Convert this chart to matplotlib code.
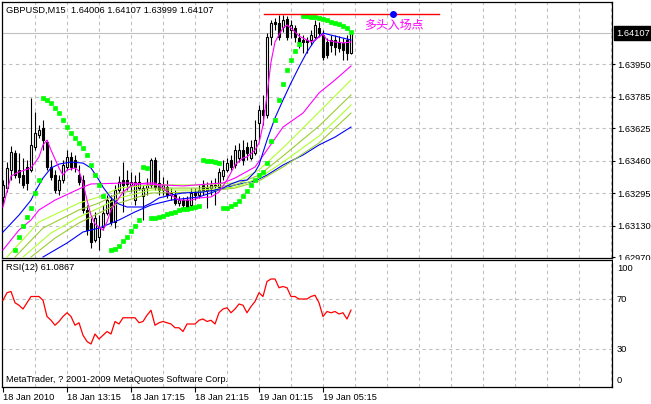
import numpy as np
import matplotlib
matplotlib.use("Agg")
import matplotlib.pyplot as plt
from matplotlib.patches import Rectangle

plt.rcParams['font.family'] = ['Liberation Sans', 'DejaVu Sans']
plt.rcParams['font.size'] = 6.7

###--------- GBPUSD M15 bars, 18 Jan 2010 09:15 -> 19 Jan 07:00 ---------###
opens = [1.63275, 1.63320, 1.63412, 1.63498, 1.63412, 1.63386, 1.63427, 1.63412, 1.63529, 1.63590,
         1.63625, 1.63554, 1.63427, 1.63386, 1.63310, 1.63361, 1.63427, 1.63478, 1.63463, 1.63386,
         1.63361, 1.63209, 1.63143, 1.63056, 1.63072, 1.63122, 1.63193, 1.63259, 1.63148, 1.63310,
         1.63361, 1.63361, 1.63336, 1.63259, 1.63320, 1.63280, 1.63320, 1.63336, 1.63463, 1.63346,
         1.63310, 1.63325, 1.63285, 1.63285, 1.63244, 1.63259, 1.63259, 1.63234, 1.63295, 1.63285,
         1.63336, 1.63310, 1.63320, 1.63331, 1.63325, 1.63381, 1.63412, 1.63463, 1.63437, 1.63473,
         1.63513, 1.63529, 1.63473, 1.63498, 1.63650, 1.63716, 1.63691, 1.64087, 1.64163, 1.64158,
         1.64138, 1.64179, 1.64123, 1.64133, 1.64082, 1.64072, 1.64072, 1.64072, 1.64087, 1.64133,
         1.64097, 1.64062, 1.64072, 1.64072, 1.64062, 1.64057, 1.64072, 1.64006]
highs = [1.63361, 1.63452, 1.63534, 1.63513, 1.63498, 1.63473, 1.63463, 1.63777, 1.63706, 1.63640,
         1.63666, 1.63564, 1.63463, 1.63412, 1.63386, 1.63463, 1.63513, 1.63503, 1.63488, 1.63437,
         1.63386, 1.63234, 1.63168, 1.63199, 1.63183, 1.63234, 1.63285, 1.63285, 1.63336, 1.63381,
         1.63452, 1.63412, 1.63402, 1.63386, 1.63402, 1.63336, 1.63371, 1.63473, 1.63478, 1.63412,
         1.63376, 1.63361, 1.63320, 1.63310, 1.63280, 1.63275, 1.63280, 1.63320, 1.63320, 1.63336,
         1.63361, 1.63351, 1.63361, 1.63371, 1.63422, 1.63463, 1.63473, 1.63488, 1.63539, 1.63549,
         1.63564, 1.63554, 1.63564, 1.63666, 1.63742, 1.63793, 1.64107, 1.64173, 1.64184, 1.64199,
         1.64199, 1.64194, 1.64173, 1.64148, 1.64107, 1.64097, 1.64087, 1.64123, 1.64173, 1.64163,
         1.64123, 1.64082, 1.64097, 1.64097, 1.64092, 1.64082, 1.64097, 1.64107]
lows = [1.63234, 1.63300, 1.63361, 1.63371, 1.63346, 1.63320, 1.63310, 1.63402, 1.63513, 1.63574,
        1.63513, 1.63412, 1.63361, 1.63295, 1.63285, 1.63346, 1.63412, 1.63412, 1.63402, 1.63336,
        1.63193, 1.63082, 1.63016, 1.63046, 1.63006, 1.63107, 1.63183, 1.63132, 1.63117, 1.63295,
        1.63199, 1.63310, 1.63300, 1.63234, 1.63310, 1.63158, 1.63285, 1.63320, 1.63310, 1.63285,
        1.63285, 1.63270, 1.63259, 1.63234, 1.63229, 1.63219, 1.63209, 1.63224, 1.63259, 1.63270,
        1.63285, 1.63219, 1.63285, 1.63234, 1.63310, 1.63361, 1.63402, 1.63412, 1.63422, 1.63452,
        1.63437, 1.63463, 1.63463, 1.63488, 1.63564, 1.63640, 1.63676, 1.64047, 1.64123, 1.64072,
        1.64113, 1.64072, 1.64082, 1.64062, 1.64031, 1.64006, 1.64006, 1.64047, 1.64072, 1.64087,
        1.63970, 1.63981, 1.64011, 1.63996, 1.64011, 1.63970, 1.63970, 1.63999]
closes = [1.63336, 1.63422, 1.63503, 1.63386, 1.63376, 1.63336, 1.63346, 1.63539, 1.63600, 1.63615,
          1.63564, 1.63427, 1.63376, 1.63310, 1.63361, 1.63437, 1.63478, 1.63427, 1.63427, 1.63351,
          1.63209, 1.63107, 1.63046, 1.63168, 1.63122, 1.63193, 1.63259, 1.63148, 1.63310, 1.63351,
          1.63336, 1.63341, 1.63351, 1.63351, 1.63351, 1.63320, 1.63336, 1.63463, 1.63325, 1.63310,
          1.63336, 1.63285, 1.63295, 1.63244, 1.63259, 1.63234, 1.63224, 1.63295, 1.63285, 1.63310,
          1.63310, 1.63320, 1.63336, 1.63336, 1.63402, 1.63412, 1.63447, 1.63427, 1.63513, 1.63513,
          1.63463, 1.63498, 1.63529, 1.63564, 1.63716, 1.63691, 1.64087, 1.64158, 1.64153, 1.64087,
          1.64173, 1.64087, 1.64148, 1.64087, 1.64057, 1.64062, 1.64062, 1.64097, 1.64148, 1.64107,
          1.63986, 1.63996, 1.64047, 1.64036, 1.64031, 1.64021, 1.64006, 1.64107]

# RSI(12), one value per bar
rsi = [69, 75, 76, 67, 65, 62, 67, 72, 72, 72, 69, 56, 53, 49, 52, 56, 59, 56, 49, 51,
       41, 36, 34, 42, 38, 41, 44, 42, 52, 50, 55, 55, 55, 55, 51, 52, 57, 61, 49, 51,
       52, 51, 50, 47, 47, 44, 50, 50, 50, 53, 54, 52, 53, 50, 59, 62, 63, 59, 62, 66,
       65, 59, 64, 68, 75, 72, 84, 86, 86, 79, 80, 79, 72, 72, 70, 70, 70, 72, 73, 67,
       56, 60, 59, 60, 58, 59, 54, 61.0867]

# Parabolic SAR dots (bar index, price)
sar_bars = [3, 4, 5, 6, 7, 8, 9, 10, 11, 12, 13, 14, 15, 16, 17, 18, 19, 20, 21, 22,
            23, 24, 25, 27, 28, 29, 30, 31, 32, 33, 34, 35, 36, 37, 38, 39, 40, 41, 42, 43,
            44, 45, 46, 47, 48, 49, 50, 51, 52, 53, 54, 55, 56, 57, 58, 59, 60, 61, 62, 63,
            64, 65, 66, 67, 68, 69, 70, 71, 72, 73, 74, 75, 76, 77, 78, 79, 80, 81, 82, 83,
            84, 85, 86, 87]
sar_vals = [1.63006, 1.63072, 1.63127, 1.63173, 1.63219, 1.63295, 1.63361, 1.63777, 1.63767, 1.63752,
            1.63727, 1.63701, 1.63666, 1.63630, 1.63600, 1.63574, 1.63549, 1.63524, 1.63488, 1.63437,
            1.63386, 1.63336, 1.63280, 1.63006, 1.63011, 1.63026, 1.63051, 1.63072, 1.63102, 1.63127,
            1.63158, 1.63427, 1.63422, 1.63168, 1.63168, 1.63173, 1.63178, 1.63188, 1.63193, 1.63199,
            1.63209, 1.63214, 1.63214, 1.63219, 1.63224, 1.63229, 1.63463, 1.63458, 1.63458, 1.63452,
            1.63447, 1.63219, 1.63219, 1.63229, 1.63239, 1.63254, 1.63280, 1.63305, 1.63336, 1.63361,
            1.63386, 1.63402, 1.63447, 1.63559, 1.63666, 1.63767, 1.63848, 1.63920, 1.63970, 1.64016,
            1.64052, 1.64194, 1.64194, 1.64189, 1.64189, 1.64184, 1.64179, 1.64173, 1.64163, 1.64158,
            1.64153, 1.64143, 1.64133, 1.64113]

# fast moving average (magenta)
ma_fast_bars = [0, 2, 4, 7, 9, 10, 11, 12, 14, 15, 16, 18, 19, 20, 21, 22, 23, 25, 26, 27,
                29, 30, 32, 34, 36, 38, 40, 42, 44, 47, 49, 52, 54, 56, 58, 60, 61, 63, 64, 65,
                66, 67, 68, 70, 71, 72, 73, 74, 76, 77, 78, 79, 80, 81, 83, 85, 87]
ma_fast = [1.63224, 1.63381, 1.63402, 1.63422, 1.63478, 1.63539, 1.63564, 1.63513, 1.63422, 1.63386,
           1.63412, 1.63422, 1.63407, 1.63346, 1.63259, 1.63183, 1.63138, 1.63107, 1.63148, 1.63209,
           1.63270, 1.63300, 1.63331, 1.63341, 1.63346, 1.63346, 1.63320, 1.63285, 1.63259, 1.63259,
           1.63270, 1.63275, 1.63300, 1.63361, 1.63437, 1.63473, 1.63478, 1.63513, 1.63549, 1.63640,
           1.63793, 1.63960, 1.64062, 1.64133, 1.64148, 1.64133, 1.64113, 1.64092, 1.64072, 1.64062,
           1.64072, 1.64087, 1.64102, 1.64072, 1.64062, 1.64057, 1.64062]

# medium moving average (blue)
ma_mid_bars = [0, 4, 7, 8, 10, 12, 14, 17, 20, 22, 24, 25, 27, 29, 31, 35, 37, 39, 42, 45,
               50, 53, 55, 57, 59, 61, 63, 64, 66, 68, 70, 72, 74, 76, 78, 80, 82, 85, 87]
ma_mid = [1.63097, 1.63183, 1.63259, 1.63300, 1.63371, 1.63422, 1.63442, 1.63452, 1.63447, 1.63422,
          1.63361, 1.63325, 1.63270, 1.63239, 1.63224, 1.63224, 1.63244, 1.63270, 1.63285, 1.63295,
          1.63300, 1.63310, 1.63320, 1.63341, 1.63356, 1.63361, 1.63402, 1.63437, 1.63564, 1.63676,
          1.63767, 1.63854, 1.63935, 1.64011, 1.64072, 1.64107, 1.64097, 1.64082, 1.64072]

# slow ribbon: magenta, four green-yellow lines, blue
rib_magenta_bars = [0, 4, 7, 9, 13, 20, 22, 31, 45, 55, 58, 63, 66, 70, 75, 79, 83, 87]
rib_magenta = [1.63006, 1.63107, 1.63158, 1.63209, 1.63259, 1.63325, 1.63341, 1.63346, 1.63331, 1.63346,
               1.63371, 1.63427, 1.63513, 1.63630, 1.63701, 1.63803, 1.63869, 1.63940]
rib_g1_bars = [1, 9, 19, 24, 29, 37, 49, 58, 64, 70, 79, 87]
rib_g1 = [1.62970, 1.63148, 1.63244, 1.63275, 1.63320, 1.63336, 1.63336, 1.63346, 1.63412, 1.63524, 1.63706, 1.63869]
rib_g2_bars = [3, 10, 19, 24, 29, 37, 49, 58, 64, 70, 79, 87]
rib_g2 = [1.62970, 1.63117, 1.63209, 1.63244, 1.63295, 1.63320, 1.63320, 1.63336, 1.63386, 1.63483, 1.63635, 1.63793]
rib_g3_bars = [5, 12, 19, 24, 29, 37, 49, 58, 64, 70, 79, 87]
rib_g3 = [1.62970, 1.63092, 1.63173, 1.63219, 1.63270, 1.63310, 1.63310, 1.63325, 1.63371, 1.63452, 1.63584, 1.63742]
rib_g4_bars = [7, 13, 19, 24, 29, 37, 49, 58, 64, 70, 79, 87]
rib_g4 = [1.62970, 1.63066, 1.63143, 1.63193, 1.63244, 1.63295, 1.63300, 1.63320, 1.63356, 1.63427, 1.63549, 1.63701]
rib_blue_bars = [10, 16, 20, 24, 29, 33, 37, 42, 49, 54, 58, 63, 66, 70, 75, 79, 83, 87]
rib_blue = [1.62970, 1.63041, 1.63097, 1.63117, 1.63158, 1.63199, 1.63234, 1.63259, 1.63275, 1.63310,
            1.63336, 1.63356, 1.63386, 1.63437, 1.63488, 1.63539, 1.63579, 1.63630]

# long entry marker
entry_price = 1.64204
entry_from, entry_to, entry_dot = 65.25, 109, 97.5
entry_text = '多头入场点'
entry_text_price = 1.64148

bid = 1.64107
header = 'GBPUSD,M15  1.64006 1.64107 1.63999 1.64107'
price_ticks = [1.63950, 1.63785, 1.63625, 1.63460, 1.63295, 1.63130, 1.62970]
time_tick_bars = [0, 16, 32, 48, 64, 80]
time_tick_labels = ['18 Jan 2010', '18 Jan 13:15', '18 Jan 17:15', '18 Jan 21:15',
                    '19 Jan 01:15', '19 Jan 05:15']

###--------- figure ---------###
W, H = 651, 404
fig = plt.figure(figsize=(W / 100, H / 100), dpi=100)
fig.patch.set_facecolor('white')


def px_axes(l, t, r, b):
    return fig.add_axes([l / W, 1 - b / H, (r - l) / W, (b - t) / H])


ax = px_axes(2, 2, 612, 258)
ax2 = px_axes(2, 260, 612, 387)

grid_kw = dict(color='#c0c0c0', lw=0.8, ls=(0, (3, 3)), zorder=0)
vgrid = np.arange(8, 153, 8)

for a in (ax, ax2):
    a.set_xlim(-0.25, 152.25)
    for v in vgrid:
        a.axvline(v, **grid_kw)
    for s in a.spines.values():
        s.set_color('black')
        s.set_linewidth(0.9)

#Main price panel:
ax.set_ylim(1.62965, 1.64265)
for p in price_ticks[:-1]:
    ax.axhline(p, **grid_kw)
ax.axhline(bid, color='#c0c0c0', lw=0.8, zorder=0.5)

x = np.arange(len(closes))
o, h, l, c = map(np.array, (opens, highs, lows, closes))
up = c >= o
ax.vlines(x, l, h, color='black', lw=0.8, zorder=2)
ax.bar(x, np.abs(c - o), bottom=np.minimum(o, c), width=0.72,
       color=np.where(up, 'white', 'black'), edgecolor='black', lw=0.8, zorder=2.5)

ax.plot(rib_blue_bars, rib_blue, color='#0000ff', lw=0.8, zorder=3)
ax.plot(rib_g4_bars, rib_g4, color='#9acd32', lw=0.8, zorder=3)
ax.plot(rib_g3_bars, rib_g3, color='#adff2f', lw=0.8, zorder=3)
ax.plot(rib_g2_bars, rib_g2, color='#9acd32', lw=0.8, zorder=3)
ax.plot(rib_g1_bars, rib_g1, color='#adff2f', lw=0.8, zorder=3)
ax.plot(rib_magenta_bars, rib_magenta, color='#ff00ff', lw=0.8, zorder=3)
ax.plot(ma_mid_bars, ma_mid, color='#0000ff', lw=0.8, zorder=3.2)
ax.plot(ma_fast_bars, ma_fast, color='#ff00ff', lw=0.8, zorder=3.3)
ax.plot(sar_bars, sar_vals, 's', color='#00ff00', ms=2.4, mec='#00ff00', mew=0.5, zorder=4)

ax.plot([entry_from, entry_to], [entry_price, entry_price], color='red', lw=1, zorder=4)
ax.plot(entry_dot, entry_price, 'o', color='blue', ms=4, zorder=5)
ax.text(entry_to - 4, entry_text_price, entry_text, color='#ff00ff', fontsize=8.6,
        ha='right', va='center', family=['Noto Sans CJK SC', 'DejaVu Sans'], zorder=5)

ax.text(4 / 610, (258 - 10) / 256, header, transform=ax.transAxes, va='center', ha='left')

ax.set_xticks([])
ax.yaxis.tick_right()
ax.set_yticks(price_ticks)
ax.set_yticklabels([f'{p:.5f}' for p in price_ticks])
ax.tick_params(axis='y', length=2.5, width=0.8, pad=1.5)
ax.annotate(f'{bid:.5f}', xy=(1, bid), xycoords=('axes fraction', 'data'),
            xytext=(3, 0), textcoords='offset points', va='center', ha='left', color='white',
            bbox=dict(boxstyle='square,pad=0.25', fc='black', ec='black'), annotation_clip=False)

#RSI panel:
ax2.set_ylim(-0.4, 101.2)
for r in (70, 30):
    ax2.axhline(r, **grid_kw)
ax2.plot(x, rsi, color='red', lw=0.9, zorder=3)
ax2.yaxis.tick_right()
ax2.set_yticks([70, 30])
ax2.set_yticklabels(['70', '30'])
ax2.tick_params(axis='y', length=0, pad=3.5)
ax2.text(1.008, 98, '100', transform=ax2.get_yaxis_transform(), va='top', ha='left')
ax2.text(1.008, 1, '0', transform=ax2.get_yaxis_transform(), va='bottom', ha='left')
ax2.text(4 / 610, (387 - 268) / 127, 'RSI(12) 61.0867', transform=ax2.transAxes, va='center')
ax2.text(4 / 610, (387 - 379) / 127, 'MetaTrader, ? 2001-2009 MetaQuotes Software Corp.',
         transform=ax2.transAxes, va='center')
ax2.set_xticks(time_tick_bars)
ax2.set_xticklabels(time_tick_labels, ha='left')
ax2.tick_params(axis='x', length=3.5, width=0.8, pad=1)

# the lowest price label is cut by the RSI window
fig.add_artist(Rectangle((612.5 / W, 1 - 263 / H), 39 / W, 3.5 / H, transform=fig.transFigure,
                         fc='white', ec='none', zorder=10))

plt.savefig('out.png', dpi=100)
